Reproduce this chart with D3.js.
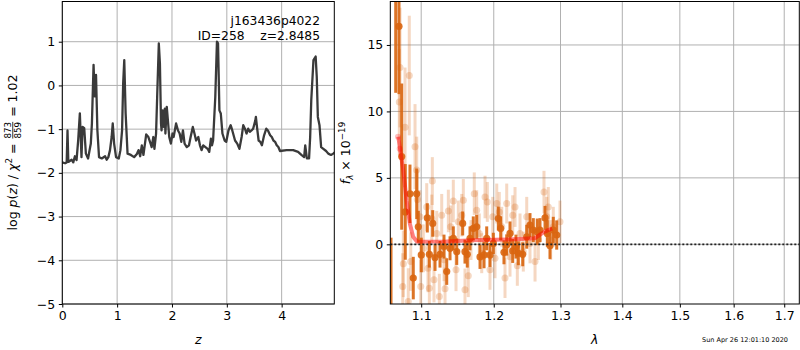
<!DOCTYPE html>
<html><head><meta charset="utf-8">
<script src="https://cdn.jsdelivr.net/npm/d3@7"></script>
<style>body{margin:0;background:#fff} svg{display:block} text{font-family:"DejaVu Sans",sans-serif}</style>
</head><body><svg id="c" width="800" height="350"></svg>
<script>
// ---------- DATA ----------
const zValues=[0.0,0.05,0.08,0.095,0.11,0.17,0.20,0.23,0.26,0.29,0.32,0.35,0.37,0.40,0.43,0.47,0.52,0.54,0.57,0.59,0.615,0.64,0.67,0.72,0.78,0.81,0.84,0.87,0.90,0.92,0.945,0.98,1.03,1.06,1.09,1.11,1.13,1.155,1.19,1.25,1.31,1.36,1.39,1.42,1.45,1.48,1.53,1.57,1.61,1.63,1.66,1.68,1.71,1.73,1.76,1.78,1.80,1.81,1.83,1.85,1.87,1.88,1.905,1.93,1.95,1.98,2.01,2.03,2.075,2.11,2.14,2.17,2.20,2.23,2.27,2.31,2.34,2.38,2.41,2.44,2.48,2.51,2.54,2.57,2.61,2.65,2.68,2.71,2.73,2.75,2.79,2.82,2.84,2.865,2.89,2.92,2.96,2.99,3.03,3.07,3.10,3.15,3.19,3.23,3.27,3.30,3.33,3.36,3.39,3.42,3.45,3.48,3.52,3.53,3.55,3.58,3.61,3.64,3.68,3.72,3.75,3.79,3.82,3.85,3.88,3.91,3.94,3.97,4.09,4.21,4.30,4.36,4.41,4.43,4.46,4.50,4.52,4.54,4.58,4.62,4.64,4.66,4.69,4.72,4.76,4.81,4.85,4.90,4.94,4.98];
const logPz=[-1.76,-1.78,-1.76,-1.03,-1.75,-1.70,-1.76,-1.62,-1.71,-1.25,-0.64,-1.64,-0.95,-0.98,-1.56,-1.67,-1.33,-0.87,0.47,-0.25,0.24,-1.03,-1.64,-1.67,-1.62,-1.70,-1.64,-1.48,-1.18,-0.87,-1.33,-1.64,-1.67,-1.48,-1.03,0.05,0.58,-0.64,-1.56,-1.59,-1.64,-1.57,-1.48,-1.62,-1.37,-1.59,-1.12,-1.18,-1.33,-1.41,-1.18,-1.45,-1.10,-0.26,0.96,0.50,-0.87,-1.03,-0.57,-0.95,-0.53,-1.10,-0.49,-0.87,-1.18,-1.33,-1.10,-1.18,-0.87,-1.03,-1.10,-1.29,-1.03,-1.33,-1.41,-1.37,-1.18,-0.95,-1.10,-1.26,-1.18,-1.37,-1.48,-1.37,-1.41,-1.45,-1.52,-1.22,-1.37,-1.26,-0.26,1.00,0.96,-0.57,-0.64,-1.10,-1.26,-1.29,-1.03,-0.91,-1.03,-1.26,-1.33,-1.45,-1.18,-0.91,-0.99,-1.10,-0.99,-1.06,-1.03,-0.99,-0.80,-0.72,-0.95,-1.26,-1.29,-1.37,-1.14,-0.99,-1.03,-1.14,-1.18,-1.26,-1.29,-1.37,-1.41,-1.50,-1.48,-1.48,-1.52,-1.59,-1.64,-1.37,-1.67,-1.67,-1.18,-0.34,0.58,0.66,0.20,-0.72,-0.91,-1.41,-1.45,-1.50,-1.56,-1.59,-1.56,-1.52];
const zTicks=[0,1,2,3,4];
const logPTicks=[-5,-4,-3,-2,-1,0,1];

const darkLam=[1.0609,1.0669,1.0711,1.0746,1.0792,1.0853,1.0896,1.0941,1.0962,1.1001,1.1081,1.1108,1.1153,1.1184,1.1251,1.1305,1.1342,1.1387,1.1432,1.1479,1.1561,1.1593,1.1625,1.1663,1.1709,1.1757,1.1804,1.1861,1.1899,1.1946,1.1994,1.2066,1.2100,1.2148,1.2188,1.2236,1.2276,1.2324,1.2359,1.2424,1.2484,1.2533,1.2583,1.2643,1.2684,1.2761,1.2796,1.2837,1.2888,1.2941];
const darkFlux=[-8,21,16.4,6.6,2.44,3.8,-2.54,3.8,1.32,-0.8,1.99,-0.75,1.57,-1.0,-0.75,-0.17,-2.05,-0.3,0.45,-0.55,1.57,-0.55,-0.75,0.45,1.2,1.32,-0.95,-0.8,0.45,-0.8,0.07,1.94,1.2,-0.6,-0.05,0.82,-0.5,-0.17,-0.67,-0.75,0.57,1.45,1.07,0.94,1.07,1.99,0.82,-0.1,1.07,0.7];
const darkErr=[8.5,9.6,5.1,5.5,3.6,2.2,1.6,1.9,1.2,1.3,1.1,1.0,1.0,1.0,1.0,0.9,1.0,0.9,0.9,1.0,0.9,0.9,1.0,0.9,0.9,0.9,0.9,1.0,0.9,0.9,0.8,0.9,0.9,0.9,0.8,0.9,0.9,0.9,0.9,0.9,0.9,0.9,0.9,1.0,0.9,0.9,1.0,1.0,1.0,1.1];

const lightLam=[1.0715,1.0724,1.0759,1.0767,1.0789,1.0831,1.0844,1.0863,1.0919,1.0941,1.0949,1.0984,1.0994,1.1028,1.1073,1.1090,1.1108,1.1140,1.1148,1.1170,1.1207,1.1242,1.1274,1.1305,1.1319,1.1364,1.1396,1.1432,1.1469,1.1501,1.1548,1.1570,1.1593,1.1639,1.1677,1.1723,1.1757,1.1794,1.1828,1.1875,1.1908,1.1946,1.1985,1.2018,1.2043,1.2080,1.2115,1.2163,1.2188,1.2236,1.2276,1.2310,1.2344,1.2384,1.2433,1.2484,1.2533,1.2609,1.2659,1.2745,1.2787,1.2811,1.2848,1.2888,1.2992];
const lightFlux=[10.7,13.3,-3.17,-1.47,8.8,-4.3,12.7,-1.3,7.35,5.6,3.37,2.07,-3.17,-0.3,2.8,-1.8,-3.3,1.94,4.76,-2.67,0.82,-3.92,2.19,-1.17,-3.34,2.51,1.32,3.26,-1.92,1.69,2.19,3.31,-3.42,-2.37,0.32,3.81,2.57,0.82,-0.67,3.56,3.19,-1.92,2.07,-1.05,3.07,2.44,1.32,-2.54,3.07,-0.93,2.19,2.81,-1.62,0.82,-0.55,2.07,0.07,-1.3,0.32,3.93,2.07,2.81,0.32,1.32,1.69];
const lightErr=[4.0,4.5,2.5,2.5,4.5,2.5,4.5,2.2,3.2,2.5,2.2,2.0,2.0,1.8,1.8,1.8,1.8,1.8,1.8,1.7,1.7,1.7,1.6,1.6,1.6,1.6,1.6,1.6,1.6,1.6,1.6,1.6,1.6,1.6,1.5,1.6,1.5,1.5,1.5,1.6,1.5,1.5,1.5,1.5,1.5,1.5,1.5,1.5,1.5,1.5,1.5,1.5,1.5,1.5,1.5,1.5,1.5,1.5,1.5,1.6,1.5,1.5,1.5,1.5,1.6];

const modelLam=[1.0702,1.0766,1.0809,1.0851,1.0894,1.0946,1.1336,1.1779,1.2221,1.2603,1.2675,1.2747,1.2869];
const modelFlux=[8.1,5.56,3.31,1.57,0.57,0.2,0.22,0.32,0.37,0.45,0.7,0.94,1.2];
const modelPtLam=[1.0698,1.0720];
const modelPtFlux=[8.1,7.2];

const lamTicks=[1.1,1.2,1.3,1.4,1.5,1.6,1.7];
const fluxTicks=[0,5,10,15];
const titleLines=["j163436p4022","ID=258    z=2.8485"];
const timestamp="Sun Apr 26 12:01:10 2020";

// ---------- DRAW ----------
const svg=d3.select("#c");
const FS=12.5, GRID="#b0b0b0";
const L={x0:62.3,x1:334.3,y0:1.5,y1:304};
const R={x0:390.3,x1:799.3,y0:1.5,y1:304};

const xz=d3.scaleLinear().domain([0,4.96]).range([L.x0,L.x1]);
const yl=d3.scaleLinear().domain([-5,1.92]).range([L.y1,L.y0]);
const xr=d3.scaleLog().domain([1.06,1.731]).range([R.x0,R.x1]);
const yr=d3.scaleLinear().domain([-4.49,18.27]).range([R.y1,R.y0]);

const defs=svg.append("defs");
defs.append("clipPath").attr("id","clipL").append("rect").attr("x",L.x0).attr("y",L.y0).attr("width",L.x1-L.x0).attr("height",L.y1-L.y0);
defs.append("clipPath").attr("id","clipR").append("rect").attr("x",R.x0).attr("y",R.y0).attr("width",R.x1-R.x0).attr("height",R.y1-R.y0);

function grid(box,xs,xt,ys,yt){
  const g=svg.append("g").attr("stroke",GRID).attr("stroke-width",1);
  g.selectAll(".gx").data(xt).enter().append("line").attr("x1",d=>xs(d)).attr("x2",d=>xs(d)).attr("y1",box.y0).attr("y2",box.y1);
  g.selectAll(".gy").data(yt).enter().append("line").attr("y1",d=>ys(d)).attr("y2",d=>ys(d)).attr("x1",box.x0).attr("x2",box.x1);
}
grid(L,xz,zTicks,yl,logPTicks);
grid(R,xr,lamTicks,yr,fluxTicks);

// left curve
const pz=zValues.map((z,i)=>[z,logPz[i]]);
svg.append("g").attr("clip-path","url(#clipL)").append("path").datum(pz)
  .attr("d",d3.line().x(d=>xz(d[0])).y(d=>yl(d[1])))
  .attr("fill","none").attr("stroke","#3a3a3a").attr("stroke-width",2.3).attr("stroke-linejoin","round");

// text in left panel
svg.append("g").selectAll("text").data(titleLines).enter().append("text")
  .attr("x",320).attr("y",(d,i)=>24.5+i*15).attr("text-anchor","end").attr("font-size",12.3)
  .style("white-space","pre").text(d=>d);

// right panel
const gR=svg.append("g").attr("clip-path","url(#clipR)");
const ORANGE="#d9650f";
const light=lightLam.map((l,i)=>({l,f:lightFlux[i],e:lightErr[i]}));
const dark=darkLam.map((l,i)=>({l,f:darkFlux[i],e:darkErr[i]}));
const gl=gR.append("g");
gl.selectAll("line").data(light).enter().append("line")
  .attr("x1",d=>xr(d.l)).attr("x2",d=>xr(d.l)).attr("y1",d=>yr(d.f-d.e)).attr("y2",d=>yr(d.f+d.e))
  .attr("stroke",ORANGE).attr("stroke-width",3).attr("opacity",0.25);
gl.selectAll("circle").data(light).enter().append("circle")
  .attr("cx",d=>xr(d.l)).attr("cy",d=>yr(d.f)).attr("r",3.5).attr("fill",ORANGE).attr("opacity",0.25);
const gd=gR.append("g");
gd.selectAll("line").data(dark).enter().append("line")
  .attr("x1",d=>xr(d.l)).attr("x2",d=>xr(d.l)).attr("y1",d=>yr(d.f-d.e)).attr("y2",d=>yr(d.f+d.e))
  .attr("stroke",ORANGE).attr("stroke-width",3).attr("opacity",0.9);
gd.selectAll("circle").data(dark).enter().append("circle")
  .attr("cx",d=>xr(d.l)).attr("cy",d=>yr(d.f)).attr("r",3.6).attr("fill",ORANGE).attr("opacity",0.9);
// model
const mod=modelLam.map((l,i)=>[l,modelFlux[i]]);
gR.append("path").datum(mod).attr("d",d3.line().x(d=>xr(d[0])).y(d=>yr(d[1])))
  .attr("fill","none").attr("stroke","red").attr("stroke-width",4).attr("opacity",0.5).attr("stroke-linejoin","round");
gR.selectAll(".mp").data(modelPtLam.map((l,i)=>[l,modelPtFlux[i]])).enter().append("circle")
  .attr("cx",d=>xr(d[0])).attr("cy",d=>yr(d[1])).attr("r",3).attr("fill","red").attr("opacity",0.25);
// zero line
gR.append("line").attr("x1",R.x0).attr("x2",R.x1).attr("y1",yr(0)).attr("y2",yr(0))
  .attr("stroke","#222").attr("stroke-width",1.8).attr("stroke-dasharray","2,2");

// axes
function styleAxis(g){
  g.select(".domain").remove();
  g.selectAll("text").attr("font-size",FS).attr("font-family","DejaVu Sans").attr("fill","#000");
  g.selectAll("line").attr("stroke","#000").attr("stroke-width",1);
}
svg.append("g").attr("transform",`translate(0,${L.y1})`).call(d3.axisBottom(xz).tickValues(zTicks).tickSize(3.5).tickPadding(3.5).tickFormat(d3.format("d"))).call(styleAxis);
svg.append("g").attr("transform",`translate(${L.x0},0)`).call(d3.axisLeft(yl).tickValues(logPTicks).tickSize(3.5).tickPadding(3.5).tickFormat(d3.format("d"))).call(styleAxis);
svg.append("g").attr("transform",`translate(0,${R.y1})`).call(d3.axisBottom(xr).tickValues(lamTicks).tickSize(3.5).tickPadding(3.5).tickFormat(d3.format(".1f"))).call(styleAxis);
svg.append("g").attr("transform",`translate(${R.x0},0)`).call(d3.axisLeft(yr).tickValues(fluxTicks).tickSize(3.5).tickPadding(3.5).tickFormat(d3.format("d"))).call(styleAxis);
[L,R].forEach(b=>svg.append("rect").attr("x",b.x0).attr("y",b.y0).attr("width",b.x1-b.x0).attr("height",b.y1-b.y0).attr("fill","none").attr("stroke","#000").attr("stroke-width",1));

// axis labels
svg.append("text").attr("x",(L.x0+L.x1)/2).attr("y",344).attr("text-anchor","middle").attr("font-size",FS).attr("font-style","italic").text("z");
svg.append("text").attr("x",(R.x0+R.x1)/2).attr("y",344).attr("text-anchor","middle").attr("font-size",FS).attr("font-style","italic").text("λ");

function mathLabel(cx,cy,pieces){
  const outer=svg.append("g").attr("transform",`translate(${cx},${cy}) rotate(-90)`);
  const g=outer.append("g");
  let x=0;
  pieces.forEach(p=>{
    if(p.frac){
      const s=FS*0.7;
      const tn=g.append("text").attr("font-size",s).text(p.frac[0]);
      const td=g.append("text").attr("font-size",s).text(p.frac[1]);
      const w=Math.max(tn.node().getComputedTextLength(),td.node().getComputedTextLength());
      const ax=-FS*0.3;
      tn.attr("x",x+1+w/2).attr("y",ax-1.8).attr("text-anchor","middle");
      td.attr("x",x+1+w/2).attr("y",ax+1.8+s*0.73).attr("text-anchor","middle");
      g.append("line").attr("x1",x+1).attr("x2",x+1+w).attr("y1",ax).attr("y2",ax).attr("stroke","#000").attr("stroke-width",0.8);
      x+=w+2;
    } else {
      const size=p.sup||p.sub?FS*0.7:FS;
      const y=p.sup?-FS*0.4:(p.sub?FS*0.2:0);
      const t=g.append("text").attr("x",x).attr("y",y).attr("font-size",size).style("white-space","pre").text(p.t);
      if(p.it) t.attr("font-style","italic");
      x+=t.node().getComputedTextLength();
    }
  });
  g.attr("transform",`translate(${-x/2},0)`);
}
mathLabel(16.5,152.5,[{t:"log "},{t:"p",it:1},{t:"("},{t:"z",it:1},{t:") / "},{t:"χ",it:1},{t:"2",sup:1},{t:" = "},{frac:["873","859"]},{t:" = 1.02"}]);
mathLabel(350,153,[{t:"f",it:1},{t:"λ",it:1,sub:1},{t:" × 10"},{t:"−19",sup:1}]);

svg.append("text").attr("x",788).attr("y",342).attr("text-anchor","end").attr("font-size",6.5).text(timestamp);
</script></body></html>
